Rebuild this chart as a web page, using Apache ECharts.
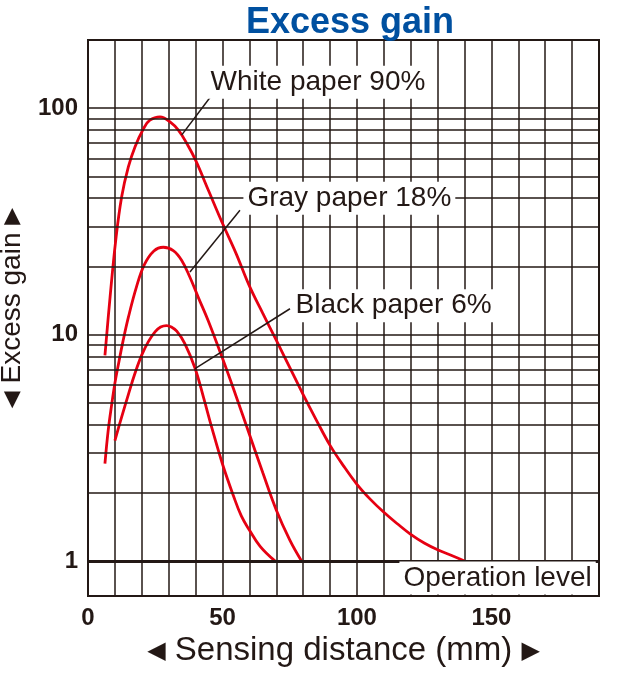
<!DOCTYPE html>
<html><head><meta charset="utf-8">
<script src="https://cdn.jsdelivr.net/npm/echarts@6/dist/echarts.min.js"></script>
<style>html,body{margin:0;padding:0;background:#fff}#c{width:640px;height:685px}</style>
</head><body><div id="c"></div>
<script>
// ---- data ----
const xTickLabels = [0, 50, 100, 150];
const yTickLabels = [1, 10, 100];
const gridValues = [2, 3, 4, 5, 6, 7, 8, 9, 10, 20, 30, 40, 50, 60, 70, 80, 90, 100];
const operationLevel = 1;
const seriesNames = ['White paper 90%', 'Gray paper 18%', 'Black paper 6%'];
const white = [[6.3, 8.1], [8.2, 14.6], [10.3, 26], [12.5, 40.5], [15, 55], [17.5, 67.6], [20.6, 81], [23, 88.5], [26.8, 91.5], [30.5, 87], [33.6, 80], [36.7, 70], [40, 58.9], [45, 42.7], [50, 31.0], [55, 22.9], [60, 16.4], [65, 12.4], [70, 9.44], [75, 7.16], [80, 5.43], [85, 4.17], [90, 3.24], [95, 2.63], [100, 2.18], [105, 1.87], [110, 1.64], [115, 1.46], [120, 1.31], [125, 1.20], [130, 1.12], [135, 1.06], [140, 1]];
const gray = [[6.3, 2.69], [7.5, 3.76], [8.8, 4.9], [10, 6.1], [11.5, 7.59], [13, 9.33], [15, 11.9], [18, 16.2], [21, 20.4], [24.5, 23.4], [28, 24.3], [31.7, 23.5], [34.8, 21.3], [37.9, 17.9], [41, 14.6], [44.7, 11.5], [50, 7.85], [55, 5.37], [60, 3.63], [65, 2.45], [70, 1.68], [75, 1.24], [79.4, 1]];
const black = [[10, 3.4], [12.5, 4.32], [15, 5.43], [17.5, 6.76], [20, 8.13], [22.5, 9.33], [25, 10.3], [27, 10.8], [29.2, 10.96], [31, 10.8], [33, 10.35], [36, 9.12], [39.8, 7.1], [43, 5.25], [46, 3.89], [50, 2.68], [54, 1.95], [57, 1.58], [60, 1.37], [64, 1.16], [69.5, 1]];

// ---- chart ----
const ink = '#231815';
const red = '#e60012';
const sans = 'Liberation Sans, Arial, sans-serif';
const chart = echarts.init(document.getElementById('c'), null, {renderer: 'canvas'});
const labelFont = {fontFamily: sans, fontSize: 28, color: ink};

function boxLabel(coord, text) {
  return {
    coord: coord, value: text,
    symbol: 'rect', symbolSize: 1,
    itemStyle: {color: 'rgba(0,0,0,0)'},
    label: Object.assign({show: true, position: 'right', distance: 0, formatter: text,
      backgroundColor: '#fff', padding: [3, 4, 2, 4]}, labelFont)
  };
}

const option = {
  animation: false,
  title: {
    text: 'Excess gain', left: 345, top: 0, textAlign: 'center',
    textStyle: {fontFamily: sans, fontWeight: 'bold', fontSize: 36, color: '#0050a0'}
  },
  grid: {left: 88, right: 41, top: 40, bottom: 89, containLabel: false, outerBoundsMode: 'none',
    show: true, borderColor: ink, borderWidth: 2, backgroundColor: '#fff'},
  xAxis: {
    type: 'value', min: 0, max: 190, interval: 10,
    axisLine: {show: true, lineStyle: {color: ink, width: 2}},
    axisTick: {show: false},
    splitLine: {show: true, lineStyle: {color: ink, width: 1.5}},
    axisLabel: {
      margin: 10, fontFamily: sans, fontWeight: 'bold', fontSize: 24, color: ink,
      formatter: v => xTickLabels.includes(v) ? String(v) : ''
    },
    name: '{t|◀}{n| Sensing distance (mm) }{t|▶}', nameLocation: 'middle', nameGap: 38,
    nameTextStyle: {
      rich: {
        n: {fontFamily: sans, fontSize: 33, color: ink},
        t: {fontFamily: 'DejaVu Sans', fontSize: 24, color: ink}
      }
    }
  },
  yAxis: {
    type: 'log', logBase: 10, min: 0.7, max: 200,
    axisLine: {show: true, lineStyle: {color: ink, width: 2}},
    axisTick: {show: false},
    splitLine: {show: false},
    axisLabel: {
      margin: 10, fontFamily: sans, fontWeight: 'bold', fontSize: 24, color: ink,
      formatter: v => yTickLabels.some(t => Math.abs(t - v) < 1e-9) ? String(v) : ''
    },
    name: '{t|◀}{n| Excess gain }{t|▶}', nameLocation: 'middle', nameGap: 62, nameRotate: 90,
    nameTextStyle: {
      padding: [0, 0, 0, 20],
      rich: {
        n: {fontFamily: sans, fontSize: 28, color: ink},
        t: {fontFamily: 'DejaVu Sans', fontSize: 22, color: ink}
      }
    }
  },
  series: [
    {
      name: 'grid', type: 'line', data: [], z: 1, silent: true,
      markLine: {
        silent: true, symbol: 'none', label: {show: false}, animation: false,
        lineStyle: {color: ink, width: 1.5, type: 'solid'},
        data: gridValues.map(v => ({yAxis: v}))
          .concat([{yAxis: operationLevel, lineStyle: {width: 3, color: ink}}])
      }
    },
    {
      name: 'annotations', type: 'line', data: [], z: 2, silent: true,
      markLine: {
        silent: true, symbol: 'none', label: {show: false}, animation: false,
        lineStyle: {color: ink, width: 1.5, type: 'solid'},
        data: [
          [{coord: [34.8, 76]}, {coord: [46, 114]}],
          [{coord: [37.9, 18.9]}, {coord: [56.5, 35.4]}],
          [{coord: [39.8, 7.07]}, {coord: [75.1, 13.0]}]
        ]
      },
      markPoint: {
        silent: true, animation: false,
        data: [
          boxLabel([43.9, 130], seriesNames[0]),
          boxLabel([57.6, 40], seriesNames[1]),
          boxLabel([75.5, 13.4], seriesNames[2]),
          boxLabel([115.6, 0.84], 'Operation level')
        ]
      }
    },
    {name: seriesNames[0], type: 'line', data: white, smooth: 0.4, showSymbol: false, z: 3, lineStyle: {color: red, width: 2.8}},
    {name: seriesNames[1], type: 'line', data: gray, smooth: 0.4, showSymbol: false, z: 3, lineStyle: {color: red, width: 2.8}},
    {name: seriesNames[2], type: 'line', data: black, smooth: 0.4, showSymbol: false, z: 3, lineStyle: {color: red, width: 2.8}}
  ]
};
chart.setOption(option);
</script>
</body></html>
